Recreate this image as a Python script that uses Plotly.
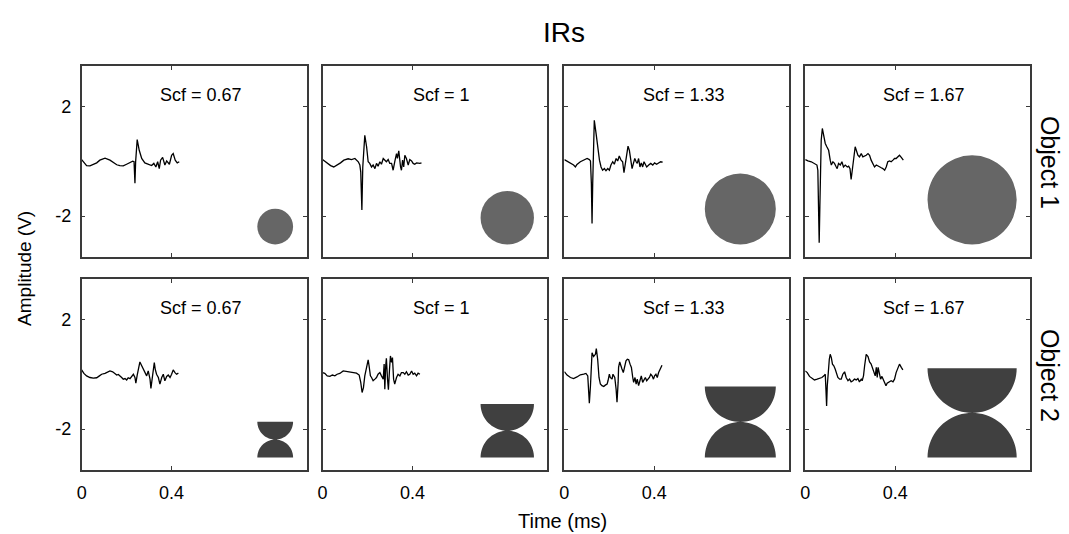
import math
import plotly.graph_objects as go

# ---------------- data ----------------
scale_factors = [0.67, 1, 1.33, 1.67]
scf_labels = ["Scf = 0.67", "Scf = 1", "Scf = 1.33", "Scf = 1.67"]
row_labels = ["Object 1", "Object 2"]
x_tickvals = [0, 0.4]
x_ticktext = ["0", "0.4"]
y_tickvals = [2, -2]
y_ticktext = ["2", "-2"]

# Object 1 impulse responses (time ms, amplitude V)
t_o1_067 = [0.000,0.010,0.022,0.037,0.052,0.067,0.081,0.104,0.126,0.141,0.156,0.170,0.185,0.200,0.215,0.227,0.233,0.237,0.240,0.244,0.247,0.256,0.267,0.281,0.296,0.311,0.321,0.330,0.338,0.345,0.351,0.360,0.370,0.378,0.390,0.400,0.407,0.416,0.425,0.434]
a_o1_067 = [0.07,-0.05,-0.15,-0.16,-0.11,-0.05,0.05,0.12,0.05,-0.05,-0.12,-0.15,-0.16,-0.10,-0.05,0.01,-0.01,-0.80,-0.01,0.41,0.80,0.41,0.11,-0.05,-0.10,-0.15,-0.07,-0.20,-0.01,-0.26,0.05,0.15,-0.13,0.02,-0.10,0.23,0.29,0.05,-0.05,-0.01]

t_o1_100 = [0.000,0.018,0.036,0.050,0.065,0.080,0.095,0.114,0.129,0.144,0.159,0.166,0.170,0.175,0.179,0.184,0.188,0.196,0.203,0.210,0.218,0.225,0.233,0.240,0.247,0.255,0.262,0.270,0.277,0.284,0.292,0.299,0.307,0.314,0.321,0.329,0.333,0.339,0.347,0.351,0.356,0.361,0.366,0.373,0.381,0.388,0.396,0.403,0.410,0.418,0.433,0.440]
a_o1_100 = [0.07,-0.05,-0.15,-0.20,-0.13,-0.05,0.05,0.10,0.07,0.11,-0.01,-0.13,-0.38,-1.78,-0.20,0.54,0.96,0.54,-0.01,-0.07,-0.20,-0.13,-0.26,-0.07,-0.17,-0.01,-0.10,0.11,0.05,-0.01,0.07,-0.07,-0.07,-0.32,-0.01,0.29,0.11,0.39,-0.20,-0.32,0.05,-0.20,0.23,0.11,-0.13,0.07,0.02,-0.07,-0.10,-0.05,-0.07,-0.05]

t_o1_133 = [0.000,0.012,0.027,0.041,0.049,0.056,0.071,0.086,0.101,0.111,0.116,0.120,0.123,0.126,0.129,0.133,0.141,0.148,0.156,0.163,0.170,0.178,0.185,0.193,0.200,0.207,0.215,0.222,0.230,0.237,0.244,0.252,0.259,0.265,0.271,0.279,0.283,0.289,0.295,0.301,0.307,0.313,0.319,0.324,0.330,0.336,0.342,0.348,0.354,0.360,0.366,0.375,0.384,0.393,0.401,0.410,0.419,0.428,0.437]
a_o1_133 = [0.07,0.02,-0.07,-0.13,-0.20,-0.11,-0.01,0.05,0.11,0.07,0.02,-0.80,-2.27,-0.80,0.54,1.51,1.02,0.54,0.05,-0.20,-0.32,-0.26,-0.34,-0.26,-0.32,-0.13,-0.01,-0.10,0.11,0.02,0.20,0.05,-0.01,-0.41,-0.07,0.41,0.56,0.41,0.05,-0.26,-0.07,0.11,-0.01,-0.07,0.11,-0.20,-0.05,-0.20,-0.01,-0.13,-0.20,-0.13,-0.07,-0.13,-0.05,-0.10,-0.05,-0.01,-0.02]

t_o1_167 = [0.000,0.012,0.027,0.041,0.052,0.056,0.059,0.062,0.065,0.068,0.071,0.076,0.081,0.089,0.096,0.104,0.111,0.116,0.123,0.130,0.138,0.142,0.148,0.156,0.163,0.170,0.178,0.187,0.193,0.199,0.204,0.209,0.215,0.222,0.227,0.234,0.241,0.249,0.256,0.264,0.271,0.279,0.286,0.293,0.301,0.308,0.316,0.323,0.330,0.338,0.345,0.353,0.360,0.367,0.375,0.382,0.390,0.397,0.404,0.412,0.419,0.427,0.436]
a_o1_167 = [0.07,0.02,-0.01,-0.07,-0.13,-0.32,-1.41,-2.98,-1.66,-0.20,0.78,1.21,1.02,0.66,0.54,0.41,0.05,-0.13,-0.01,-0.07,-0.20,-0.26,-0.07,-0.13,-0.01,-0.20,-0.13,-0.20,-0.17,-0.26,-0.66,-0.32,0.11,0.54,0.41,0.23,0.17,0.29,0.17,0.20,0.23,0.29,0.23,0.05,-0.07,-0.20,-0.13,-0.17,-0.20,-0.23,-0.26,-0.32,-0.20,-0.01,0.02,-0.01,0.05,0.11,0.11,0.17,0.23,0.15,0.05]

# Object 2 impulse responses
t_o2_067 = [0.000,0.010,0.022,0.037,0.052,0.067,0.079,0.089,0.104,0.119,0.126,0.138,0.148,0.156,0.163,0.170,0.178,0.185,0.193,0.200,0.207,0.215,0.222,0.230,0.237,0.241,0.247,0.253,0.259,0.267,0.274,0.281,0.289,0.296,0.304,0.308,0.313,0.319,0.323,0.327,0.333,0.341,0.348,0.356,0.363,0.370,0.378,0.385,0.393,0.400,0.407,0.415,0.422,0.430]
a_o2_067 = [0.17,0.04,-0.05,-0.11,-0.13,-0.12,-0.05,0.01,0.04,0.11,0.13,0.10,0.04,-0.02,0.00,-0.07,-0.11,-0.17,-0.15,-0.20,-0.12,-0.15,-0.05,0.01,-0.11,-0.32,-0.02,0.26,0.46,0.32,0.20,0.07,-0.05,0.13,-0.17,-0.51,-0.17,0.22,0.44,0.20,0.01,-0.11,-0.35,-0.11,0.01,-0.23,-0.07,-0.02,-0.11,0.01,0.17,0.07,0.01,0.05]

t_o2_100 = [0.000,0.010,0.021,0.033,0.044,0.055,0.065,0.077,0.092,0.107,0.121,0.136,0.151,0.163,0.170,0.176,0.182,0.188,0.196,0.203,0.207,0.213,0.218,0.225,0.233,0.240,0.247,0.255,0.262,0.270,0.274,0.277,0.281,0.284,0.289,0.293,0.298,0.302,0.307,0.311,0.316,0.321,0.329,0.336,0.344,0.351,0.359,0.366,0.373,0.381,0.388,0.396,0.403,0.410,0.418,0.425,0.433]
a_o2_100 = [0.07,0.04,-0.05,-0.07,-0.02,-0.05,0.01,0.04,0.13,0.11,0.07,0.07,0.05,-0.02,-0.29,-0.66,-0.48,-0.05,0.32,0.54,0.32,-0.05,-0.11,-0.23,-0.17,-0.11,0.01,0.07,-0.05,-0.17,0.38,-0.54,0.32,0.59,-0.17,-0.56,0.20,0.68,0.44,0.62,-0.17,-0.35,-0.11,0.01,-0.05,0.07,0.07,0.01,0.10,-0.02,0.01,0.13,0.01,0.05,-0.05,0.05,0.01]

t_o2_133 = [0.000,0.012,0.027,0.041,0.056,0.071,0.086,0.096,0.104,0.108,0.111,0.116,0.119,0.123,0.130,0.138,0.142,0.148,0.154,0.160,0.167,0.175,0.182,0.190,0.194,0.200,0.204,0.212,0.216,0.224,0.230,0.234,0.239,0.241,0.246,0.250,0.256,0.262,0.268,0.274,0.280,0.286,0.292,0.298,0.304,0.308,0.314,0.319,0.324,0.330,0.336,0.342,0.348,0.354,0.360,0.366,0.372,0.378,0.384,0.390,0.396,0.401,0.407,0.413,0.419,0.428,0.434]
a_o2_133 = [0.10,-0.02,-0.11,-0.15,-0.09,-0.01,0.01,0.04,-0.05,-0.54,-1.05,-0.41,0.44,0.80,0.66,0.74,0.95,0.56,-0.11,-0.35,-0.41,-0.44,-0.39,-0.35,-0.23,0.01,-0.11,-0.17,0.01,-0.11,-0.54,-1.02,-0.29,0.26,0.46,0.32,0.20,0.07,0.26,0.50,0.56,0.54,0.38,0.26,-0.11,-0.29,-0.11,-0.35,-0.17,-0.41,-0.23,-0.05,-0.29,-0.17,-0.11,-0.23,-0.17,-0.11,0.01,-0.05,-0.17,-0.05,0.01,-0.11,0.07,0.20,0.34]

t_o2_167 = [0.000,0.009,0.019,0.030,0.041,0.053,0.064,0.074,0.083,0.089,0.092,0.095,0.098,0.102,0.107,0.111,0.116,0.121,0.127,0.133,0.139,0.145,0.153,0.160,0.167,0.175,0.182,0.190,0.197,0.204,0.212,0.219,0.227,0.234,0.241,0.249,0.253,0.259,0.264,0.271,0.279,0.286,0.293,0.301,0.305,0.311,0.316,0.320,0.324,0.329,0.335,0.341,0.347,0.353,0.359,0.364,0.370,0.376,0.382,0.390,0.397,0.404,0.412,0.419,0.427,0.434]
a_o2_167 = [0.13,0.07,-0.07,-0.15,-0.20,-0.17,-0.15,-0.11,-0.05,0.01,-0.54,-1.15,-0.41,0.13,0.56,0.74,0.62,0.38,0.32,0.20,0.07,-0.11,-0.17,-0.17,0.01,0.10,-0.11,-0.23,-0.17,-0.27,-0.23,-0.17,-0.20,-0.15,-0.27,-0.17,-0.23,-0.05,0.32,0.74,0.66,0.46,0.38,0.20,0.13,-0.05,0.26,-0.11,0.26,0.01,-0.17,-0.07,-0.17,-0.29,-0.41,-0.32,-0.29,-0.27,-0.23,-0.27,-0.17,0.07,0.26,0.38,0.26,0.17]

series = [
    [(t_o1_067, a_o1_067), (t_o1_100, a_o1_100), (t_o1_133, a_o1_133), (t_o1_167, a_o1_167)],
    [(t_o2_067, a_o2_067), (t_o2_100, a_o2_100), (t_o2_133, a_o2_133), (t_o2_167, a_o2_167)],
]

# ---------------- layout / style ----------------
W, H = 1069, 534
FONT = "Liberation Sans, Arial, Helvetica, sans-serif"
col_left_px = [77, 319, 562, 804]
panel_w_px = 226
row_top_px = [66, 279]
panel_h_px = 191
X_RANGE = [0, 1.0]
Y_RANGE = [-3.5, 3.5]
AXIS_COLOR = "#3a3a3a"
OBJ_COLORS = ["#666666", "#404040"]
BASE_R_PX = 26.7          # shape radius (px) for Scf = 1
SHAPE_RIGHT = 0.94        # shape right edge (ms)
SHAPE_BOTTOM = -3.04      # shape bottom (V)

fig = go.Figure()
layout_axes = {}
annotations = []
shapes = []

for r in range(2):
    for c in range(4):
        i = r * 4 + c + 1
        xa = f"x{i}" if i > 1 else "x"
        ya = f"y{i}" if i > 1 else "y"
        t, a = series[r][c]
        fig.add_trace(go.Scatter(x=t, y=a, mode="lines", xaxis=xa, yaxis=ya,
                                 line=dict(color="black", width=1.3), showlegend=False,
                                 hoverinfo="skip"))
        x0 = col_left_px[c] / W
        x1 = (col_left_px[c] + panel_w_px) / W
        y1 = 1 - row_top_px[r] / H
        y0 = 1 - (row_top_px[r] + panel_h_px) / H
        common = dict(showgrid=False, zeroline=False, showline=True, linecolor=AXIS_COLOR,
                      linewidth=1.5, mirror="ticks", ticks="inside", ticklen=4,
                      tickcolor=AXIS_COLOR, tickwidth=1,
                      tickfont=dict(family=FONT, size=18, color="black"), fixedrange=True)
        layout_axes[f"xaxis{i if i > 1 else ''}"] = dict(
            domain=[x0, x1], range=X_RANGE, anchor=ya, tickmode="array",
            tickvals=x_tickvals, ticktext=x_ticktext, showticklabels=(r == 1),
            ticklabelstandoff=6, **common)
        layout_axes[f"yaxis{i if i > 1 else ''}"] = dict(
            domain=[y0, y1], range=Y_RANGE, anchor=xa, tickmode="array",
            tickvals=y_tickvals, ticktext=y_ticktext, showticklabels=(c == 0),
            ticklabelstandoff=5, **common)

        annotations.append(dict(text=scf_labels[c], xref=xa, yref=ya, x=0.53, y=2.45,
                                xanchor="center", yanchor="middle", showarrow=False,
                                font=dict(family=FONT, size=18, color="black")))

        rp = BASE_R_PX * scale_factors[c]
        if r == 0:
            shapes.append(dict(type="circle", xref=xa, yref=ya, xsizemode="pixel",
                               ysizemode="pixel", xanchor=SHAPE_RIGHT, yanchor=SHAPE_BOTTOM,
                               x0=-2 * rp, x1=0, y0=0, y1=2 * rp,
                               fillcolor=OBJ_COLORS[0], line=dict(width=0), layer="above"))
        else:
            n = 40
            pts = [(-2 * rp, 2 * rp), (0, 2 * rp)]
            for k in range(n + 1):
                th = -math.pi * k / n
                pts.append((-rp + rp * math.cos(th), 2 * rp + rp * math.sin(th)))
            path = "M " + " L ".join(f"{px:.2f},{py:.2f}" for px, py in pts) + " Z"
            pts2 = [(0, 0), (-2 * rp, 0)]
            for k in range(n + 1):
                th = math.pi - math.pi * k / n
                pts2.append((-rp + rp * math.cos(th), rp * math.sin(th)))
            path += " M " + " L ".join(f"{px:.2f},{py:.2f}" for px, py in pts2) + " Z"
            shapes.append(dict(type="path", path=path, xref=xa, yref=ya, xsizemode="pixel",
                               ysizemode="pixel", xanchor=SHAPE_RIGHT, yanchor=SHAPE_BOTTOM,
                               fillcolor=OBJ_COLORS[1], line=dict(width=0), layer="above"))

# Global labels
def paper_label(text, xpx, ypx, size, angle=0):
    return dict(text=text, xref="paper", yref="paper", x=xpx / W, y=1 - ypx / H,
                xanchor="center", yanchor="middle", showarrow=False, textangle=angle,
                font=dict(family=FONT, size=size, color="black"))

annotations += [
    paper_label("IRs", 562, 32, 28),
    paper_label("Time (ms)", 560, 521, 20),
    paper_label("Amplitude (V)", 19, 268, 19, -90),
    paper_label(row_labels[0], 1050, 162, 25, 90),
    paper_label(row_labels[1], 1050, 375, 25, 90),
]

fig.update_layout(width=W, height=H, margin=dict(l=0, r=0, t=0, b=0),
                  paper_bgcolor="white", plot_bgcolor="white",
                  annotations=annotations, shapes=shapes, **layout_axes)

fig.write_html("out.html", config={"displayModeBar": False})
